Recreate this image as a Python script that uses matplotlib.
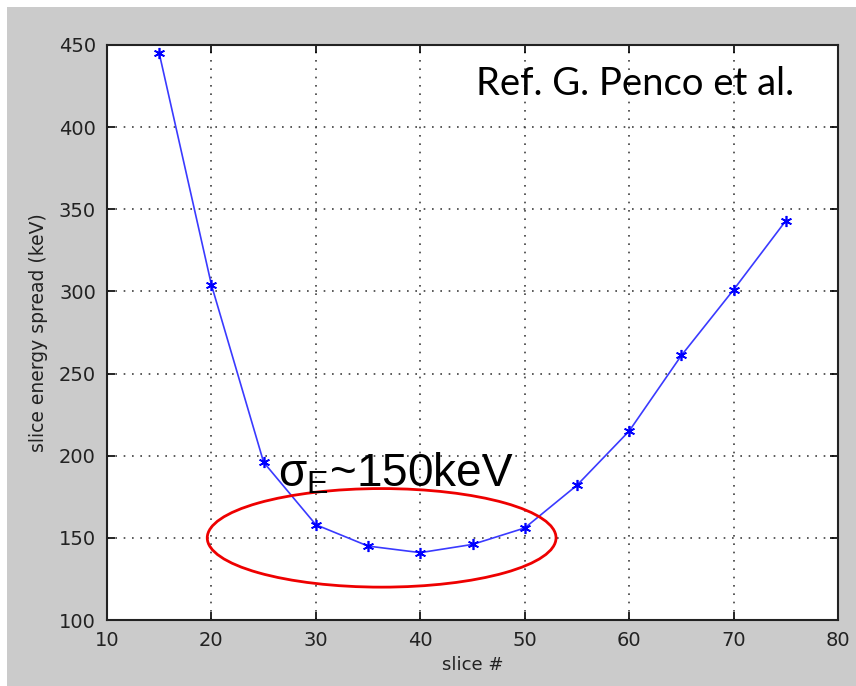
import matplotlib.pyplot as plt
from matplotlib.patches import Ellipse, Rectangle

# slice number vs slice energy spread (keV)
slices = [15, 20, 25, 30, 35, 40, 45, 50, 55, 60, 65, 70, 75]
spread = [445, 304, 196, 158, 145, 141, 146, 156, 182, 215, 261, 301, 343]

x_ticks = [10, 20, 30, 40, 50, 60, 70, 80]
y_ticks = [100, 150, 200, 250, 300, 350, 400, 450]

W, H = 856, 686
fig = plt.figure(figsize=(W / 100, H / 100), dpi=100)
fig.patch.set_facecolor('white')
# grey MATLAB-style figure background, white strip on top/left
fig.patches.append(Rectangle((7 / W, 0), 1 - 7 / W, 1 - 7 / H, transform=fig.transFigure,
                             facecolor='#cbcbcb', edgecolor='none', zorder=-5))

ax = fig.add_axes([107 / W, 66 / H, 731 / W, 575 / H])
ax.set_facecolor('white')

ax.plot(slices, spread, color='#3a3aff', lw=1.2, marker=(6, 2, 0), markersize=8,
        markeredgewidth=1.2, markeredgecolor='#0000ff', zorder=3)

ax.set_xlim(10, 80)
ax.set_ylim(100, 450)
ax.set_xticks(x_ticks)
ax.set_yticks(y_ticks)
ax.grid(True, linestyle=(0, (1, 4)), color='#404040', lw=1.2)
ax.tick_params(direction='in', top=True, right=True, length=6, width=1.2,
               labelsize=14, labelcolor='#222222', pad=8)
for s in ax.spines.values():
    s.set_linewidth(1.5)
    s.set_color('#222222')

ax.set_xlabel('slice #', fontsize=13, color='#222222', labelpad=4)
ax.set_ylabel('slice energy spread (keV)', fontsize=13.5, color='#222222', labelpad=8)

ell = Ellipse((36.3, 150), 33.4, 60, fill=False, edgecolor='#ee0000', lw=2, zorder=4)
ax.add_patch(ell)

ax.text(26.4, 181, r'$\mathregular{\sigma_E}$~150keV', fontsize=33,
        family='Liberation Sans', color='black', zorder=5)
ax.text(60.6, 426, 'Ref. G. Penco et al.', fontsize=27.5, family='Lato',
        ha='center', va='center', color='black', zorder=5)

fig.savefig('out.png', dpi=100)
